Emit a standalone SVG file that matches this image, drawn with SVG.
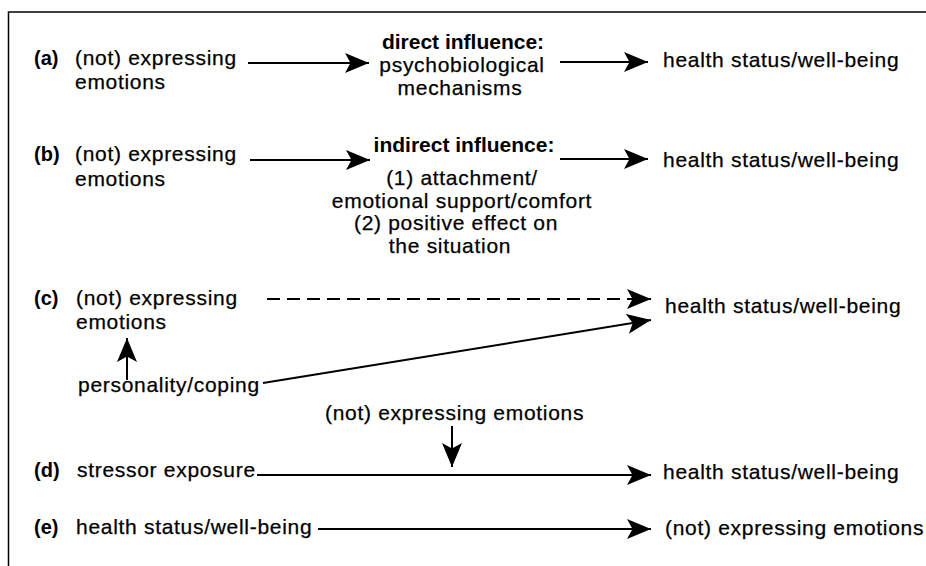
<svg xmlns="http://www.w3.org/2000/svg" width="926" height="566" viewBox="0 0 926 566">
<style>
.t{font-family:"Liberation Sans",Arial,Helvetica,sans-serif;font-size:21px;letter-spacing:0.7px;fill:#000;stroke:#000;stroke-width:0.25}
.b{font-family:"Liberation Sans",Arial,Helvetica,sans-serif;font-size:21px;font-weight:bold;fill:#000}
.lbl{font-family:"Liberation Sans",Arial,Helvetica,sans-serif;font-size:20px;font-weight:bold;fill:#000}
.m{text-anchor:middle}
.c{fill:none;stroke:#000;stroke-width:2}
.d{stroke-dasharray:13 7}
.frame{fill:none;stroke:#000;stroke-width:1.5}
</style>
<defs>
<marker id="ah" markerUnits="userSpaceOnUse" markerWidth="26" markerHeight="22" refX="24" refY="10" orient="auto" viewBox="0 0 26 22">
<path d="M0,0 L24,10 L0,20 L5.5,10 Z" fill="#000"/>
</marker>
</defs>
<rect width="926" height="566" fill="#fff"/>
<path class="frame" d="M8.5,566 V12 H926"/>

<g id="row-a">
<g id="a-label"><text class="lbl" x="34" y="65">(a)</text></g>
<g id="a-src"><text class="t" x="75" y="65">(not) expressing</text><text class="t" x="75" y="89">emotions</text></g>
<g id="a-mid"><text class="b m" x="463" y="49">direct influence:</text><text class="t m" x="462" y="72">psychobiological</text><text class="t m" x="460" y="95">mechanisms</text></g>
<g id="a-dst"><text class="t" x="663" y="67">health status/well-being</text></g>
</g>

<g id="row-b">
<g id="b-label"><text class="lbl" x="34" y="161">(b)</text></g>
<g id="b-src"><text class="t" x="75" y="161">(not) expressing</text><text class="t" x="75" y="186">emotions</text></g>
<g id="b-mid"><text class="b m" x="464" y="152">indirect influence:</text><text class="t m" x="462" y="185">(1) attachment/</text><text class="t m" x="462" y="208">emotional support/comfort</text><text class="t m" x="456" y="230">(2) positive effect on</text><text class="t m" x="450" y="253">the situation</text></g>
<g id="b-dst"><text class="t" x="663" y="167">health status/well-being</text></g>
</g>

<g id="row-c">
<g id="c-label"><text class="lbl" x="34" y="305">(c)</text></g>
<g id="c-src"><text class="t" x="76" y="305">(not) expressing</text><text class="t" x="76" y="329">emotions</text></g>
<g id="c-pers"><text class="t" x="78" y="392">personality/coping</text></g>
<g id="c-dst"><text class="t" x="665" y="313">health status/well-being</text></g>
</g>

<g id="row-d">
<g id="d-mod"><text class="t" x="325" y="420">(not) expressing emotions</text></g>
<g id="d-label"><text class="lbl" x="34" y="477">(d)</text></g>
<g id="d-src"><text class="t" x="77" y="477">stressor exposure</text></g>
<g id="d-dst"><text class="t" x="663" y="479">health status/well-being</text></g>
</g>

<g id="row-e">
<g id="e-label"><text class="lbl" x="34" y="534">(e)</text></g>
<g id="e-src"><text class="t" x="76" y="534">health status/well-being</text></g>
<g id="e-dst"><text class="t" x="665" y="535">(not) expressing emotions</text></g>
</g>

<g id="connectors">
<line class="c" x1="248" y1="63" x2="369" y2="63" marker-end="url(#ah)"/>
<line class="c" x1="560" y1="62" x2="648" y2="62" marker-end="url(#ah)"/>
<line class="c" x1="250" y1="160" x2="370" y2="160" marker-end="url(#ah)"/>
<line class="c" x1="560" y1="159" x2="648" y2="159" marker-end="url(#ah)"/>
<line class="c d" x1="267" y1="299" x2="651" y2="299" marker-end="url(#ah)"/>
<line class="c" x1="263" y1="383" x2="651" y2="320" marker-end="url(#ah)"/>
<line class="c" x1="127" y1="380" x2="127" y2="338" marker-end="url(#ah)"/>
<line class="c" x1="452" y1="426" x2="452" y2="467" marker-end="url(#ah)"/>
<line class="c" x1="257" y1="475" x2="651" y2="475" marker-end="url(#ah)"/>
<line class="c" x1="318" y1="529" x2="651" y2="529" marker-end="url(#ah)"/>
</g>
</svg>
